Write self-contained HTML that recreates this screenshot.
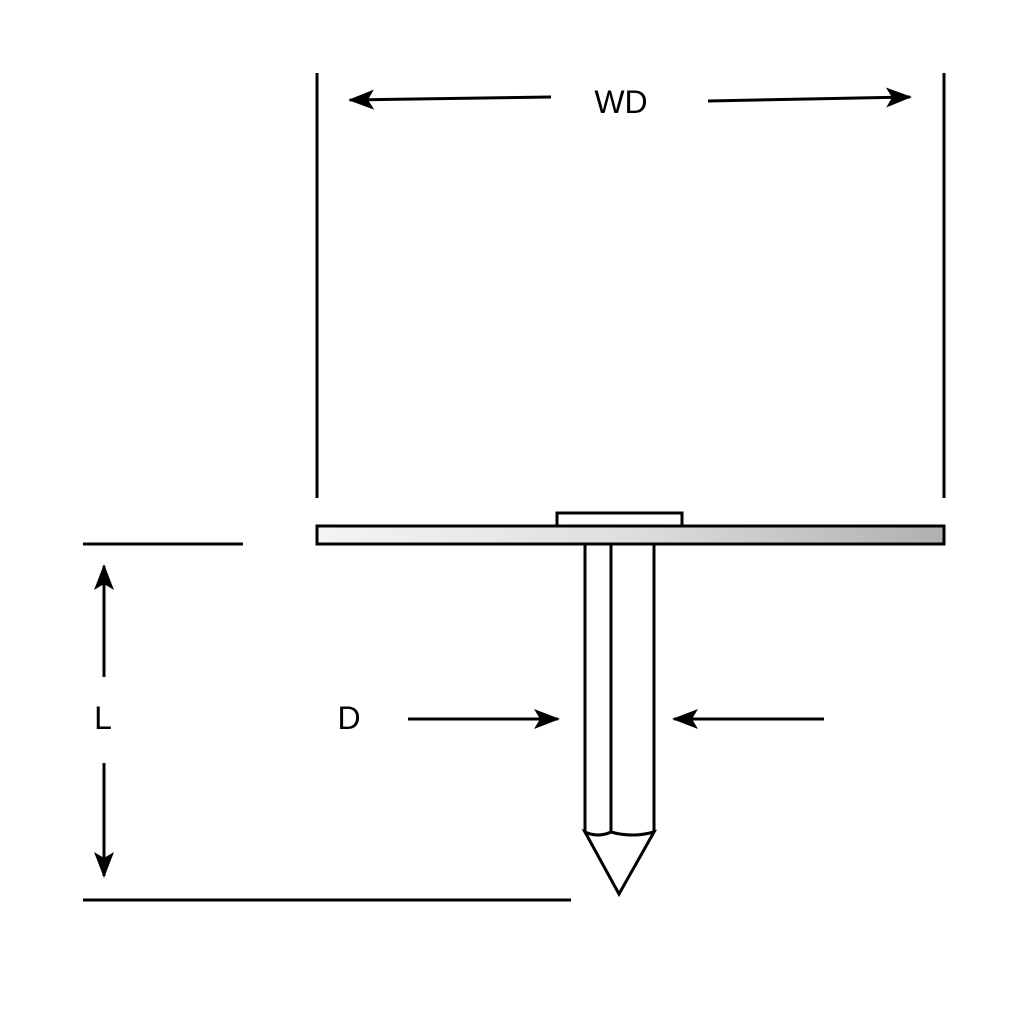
<!DOCTYPE html>
<html><head><style>body{margin:0;background:#fff}svg{display:block}</style></head>
<body>
<svg width="1024" height="1024" viewBox="0 0 1024 1024" xmlns="http://www.w3.org/2000/svg">
<defs>
<linearGradient id="g" x1="0" x2="1"><stop offset="0" stop-color="#f4f4f4"/><stop offset="0.5" stop-color="#dedede"/><stop offset="1" stop-color="#b0b0b0"/></linearGradient>
<marker id="a" markerWidth="26" markerHeight="20" refX="24" refY="10" orient="auto" markerUnits="userSpaceOnUse"><path d="M0,0 L26,10 L0,20 L6,10 Z" fill="#000"/></marker>
</defs>
<g stroke="#000" stroke-width="3" fill="none">
<line x1="317" y1="73" x2="317" y2="498"/>
<line x1="944" y1="73" x2="944" y2="498"/>
<line x1="551" y1="97" x2="350" y2="100" marker-end="url(#a)"/>
<line x1="708" y1="101" x2="910" y2="97" marker-end="url(#a)"/>
<rect x="557" y="513" width="125" height="13" fill="#fff"/>
<rect x="317" y="526" width="627" height="18" fill="url(#g)"/>
<line x1="83" y1="544" x2="243" y2="544"/>
<line x1="83" y1="900" x2="571" y2="900"/>
<line x1="104" y1="677" x2="104" y2="566" marker-end="url(#a)"/>
<line x1="104" y1="763" x2="104" y2="876" marker-end="url(#a)"/>
<line x1="408" y1="719" x2="558" y2="719" marker-end="url(#a)"/>
<line x1="824" y1="719" x2="674" y2="719" marker-end="url(#a)"/>
<line x1="585" y1="544" x2="585" y2="832"/>
<line x1="611" y1="544" x2="611" y2="832"/>
<line x1="654" y1="544" x2="654" y2="832"/>
<path d="M585,832 Q598,838 611,832 Q632,838 654,832 L619,894 Z" fill="#fff"/>
</g>
<g font-family="Liberation Sans, sans-serif" font-size="32" fill="#000" text-anchor="middle">
<text x="621" y="113">WD</text>
<text x="103" y="729">L</text>
<text x="349" y="729">D</text>
</g>
</svg>
</body></html>
